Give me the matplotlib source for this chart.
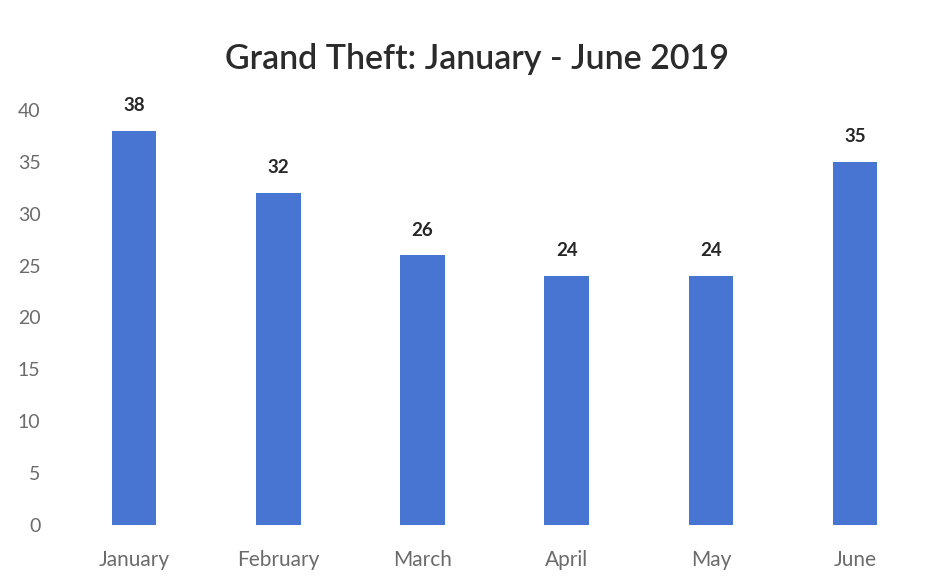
import matplotlib.pyplot as plt
import numpy as np

months = ['January', 'February', 'March', 'April', 'May', 'June']
thefts = [38, 32, 26, 24, 24, 35]
y_ticks = [0, 5, 10, 15, 20, 25, 30, 35, 40]

bar_color = '#4775D1'
text_grey = '#6b6b6b'

plt.rcParams['font.family'] = ['Lato', 'DejaVu Sans']

fig = plt.figure(figsize=(9.48, 5.86), dpi=100)
ax = fig.add_axes([0.0654, 0.1041, 0.9126, 0.7082])

x = np.arange(len(months))
ax.bar(x, thefts, width=0.31, color=bar_color)

# value labels above each bar
for xi, v in zip(x, thefts):
  ax.text(xi, v + 1.6, f'{v}', ha='center', va='bottom',
          fontsize=13.5, fontweight='bold', color='#262626')

ax.set_xlim(-0.5, len(months) - 0.5)
ax.set_ylim(0, 40)
ax.set_yticks(y_ticks)
ax.set_xticks(x)
ax.set_xticklabels(months)
ax.tick_params(axis='y', length=0, pad=15.5, labelsize=14, labelcolor=text_grey)
ax.tick_params(axis='x', length=0, pad=18, labelsize=15, labelcolor=text_grey)

for s in ax.spines.values():
  s.set_visible(False)

fig.text(0.503, 0.9, 'Grand Theft: January - June 2019', ha='center', va='center',
         fontsize=24.5, color='#2b2b2b', fontweight='semibold')

fig.savefig('out.png', dpi=100, facecolor='white')
